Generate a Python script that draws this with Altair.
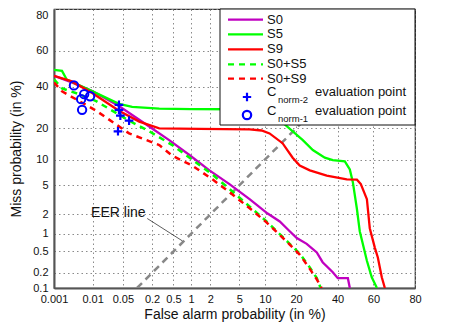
import altair as alt
import pandas as pd
from statistics import NormalDist

# ---------------- data (all values in %) ----------------
x_ticks = [0.001, 0.01, 0.05, 0.2, 0.5, 1, 2, 5, 10, 20, 40, 60, 80]
x_tick_labels = ["0.001", "0.01", "0.05", "0.2", "0.5", "1", "2", "5", "10", "20", "40", "60", "80"]
y_ticks = [0.1, 0.2, 0.5, 1, 2, 5, 10, 20, 40, 60, 80]
y_tick_labels = ["0.1", "0.2", "0.5", "1", "2", "5", "10", "20", "40", "60", "80"]

s0_fa = [0.001, 0.003, 0.01, 0.041, 0.176, 0.42, 0.94, 1.94, 3.73, 6.7, 10.7, 14.2,
         17.6, 20.3, 24.5, 29.2, 32.1, 37.4, 40.1, 45.7, 46.8]
s0_miss = [46.0, 42.4, 37.5, 30.0, 20.8, 15.7, 11.2, 7.6, 5.2, 3.3, 2.06, 1.57,
           1.10, 0.85, 0.68, 0.48, 0.32, 0.206, 0.158, 0.158, 0.1]

s5_fa = [0.001, 0.00165, 0.0022, 0.01, 0.041, 0.079, 0.275, 1.0, 5.0, 9.9, 14.2, 15.5,
         22.8, 27.3, 33.2, 37.4, 44.0, 46.8, 48.5, 50.8, 52.4, 56.4, 59.1, 61.9]
s5_miss = [49.4, 48.8, 44.0, 37.5, 31.0, 29.5, 28.7, 28.5, 28.4, 28.3, 25.0, 22.0,
           15.7, 12.6, 10.5, 9.9, 9.6, 7.8, 5.5, 2.4, 1.10, 0.34, 0.165, 0.1]

s9_fa = [0.001, 0.003, 0.01, 0.041, 0.111, 0.275, 1.36, 6.7, 9.2, 11.2, 15.1, 18.7,
         21.5, 25.9, 34.2, 45.1, 50.8, 53.0, 56.4, 58.0, 60.8, 62.4, 64.5, 66.1]
s9_miss = [46.0, 42.9, 36.5, 27.7, 22.8, 20.0, 19.8, 19.6, 19.2, 18.1, 14.7, 10.5,
           8.6, 7.6, 6.6, 5.95, 5.9, 5.2, 3.3, 1.23, 0.58, 0.39, 0.165, 0.1]

s05_fa = [0.001, 0.00165, 0.0046, 0.0122, 0.068, 0.176, 0.478, 1.05, 2.15, 3.73, 7.27,
          10.4, 14.2, 17.6, 21.5, 25.9, 29.2, 31.1]
s05_miss = [44.0, 39.1, 36.0, 32.4, 23.2, 18.9, 14.1, 9.97, 6.8, 4.5, 2.4,
            1.57, 0.99, 0.68, 0.457, 0.256, 0.158, 0.1]

s09_fa = [0.001, 0.00165, 0.0122, 0.068, 0.275, 0.478, 1.05, 2.15, 3.73, 7.27,
          10.4, 14.2, 17.6, 21.5, 25.9, 29.2, 31.6]
s09_miss = [42.3, 37.5, 27.7, 18.1, 14.1, 11.0, 8.6, 5.95, 4.1, 2.28,
            1.52, 0.96, 0.66, 0.44, 0.24, 0.15, 0.1]

cnorm1_fa = [0.0034, 0.0062, 0.0087, 0.0052, 0.0055]
cnorm1_miss = [40.7, 36.0, 34.9, 33.4, 28.1]
cnorm2_fa = [0.041, 0.041, 0.044, 0.068, 0.039]
cnorm2_miss = [30.5, 28.1, 25.4, 23.2, 18.9]

eer_vals = [0.1, 80]
eer_label_pos = [0.0092, 2.08]
eer_pointer = [0.161, 1.74, 0.72, 0.76]

# ---------------- helpers ----------------
ND = NormalDist()


def probit(pct):
    return ND.inv_cdf(pct / 100.0)


def series_df(fa, miss):
    return pd.DataFrame({"i": list(range(len(fa))),
                         "x": [probit(v) for v in fa],
                         "y": [probit(v) for v in miss]})


def label_expr(vals, labels):
    expr = "''"
    for v, l in reversed(list(zip(vals, labels))):
        expr = f"abs(datum.value - ({v:.6f})) < 0.001 ? '{l}' : ({expr})"
    return expr


FONT = "Liberation Sans"
W, H = 361, 279

x_vals = [probit(v) for v in x_ticks]
y_vals = [probit(v) for v in y_ticks]
xs = alt.Scale(domain=[probit(0.001), probit(80)], nice=False, zero=False)
ys = alt.Scale(domain=[probit(0.1), probit(80)], nice=False, zero=False)

x_axis = alt.Axis(values=x_vals, labelExpr=label_expr(x_vals, x_tick_labels),
                  title="False alarm probability (in %)", grid=True,
                  gridDash=[1.5, 3], gridColor="#8a8a8a", gridWidth=1,
                  ticks=False, labelOverlap=False, labelFlush=False, labelBound=False,
                  labelFontSize=11, titleFontSize=14, titleFontWeight="normal",
                  domainColor="#555555", domainWidth=2, labelPadding=5,
                  titlePadding=3, labelColor="#111111", titleColor="#111111",
                  labelFont=FONT, titleFont=FONT)
y_axis = alt.Axis(values=y_vals, labelExpr=label_expr(y_vals, y_tick_labels),
                  title="Miss probability (in %)", grid=True,
                  gridDash=[1.5, 3], gridColor="#8a8a8a", gridWidth=1,
                  ticks=False, labelOverlap=False, labelFlush=False, labelBound=False,
                  labelBaseline={"condition": {"test": "datum.value > 0.8", "value": "top"},
                                 "value": "middle"},
                  labelFontSize=11, titleFontSize=14, titleFontWeight="normal",
                  domainColor="#555555", domainWidth=2, labelPadding=6,
                  titlePadding=9, labelColor="#111111", titleColor="#111111",
                  labelFont=FONT, titleFont=FONT)

X = alt.X("x:Q", scale=xs, axis=x_axis)
Y = alt.Y("y:Q", scale=ys, axis=y_axis)


def line_layer(df, color, dash=None, width=2.3):
    kw = dict(color=color, strokeWidth=width, clip=True)
    if dash:
        kw["strokeDash"] = dash
    return alt.Chart(df).mark_line(**kw).encode(x=X, y=Y, order="i:Q")


MAG, GRN, RED, BLU = "#C000C0", "#00FF00", "#FF0000", "#0000FF"
PLUS = "M-1,0H1M0,-1V1"

layers = []
layers.append(line_layer(series_df(eer_vals, eer_vals), "#888888", dash=[7, 5], width=2.5))
layers.append(line_layer(series_df(s0_fa, s0_miss), MAG))
layers.append(line_layer(series_df(s5_fa, s5_miss), GRN))
layers.append(line_layer(series_df(s9_fa, s9_miss), RED))
layers.append(line_layer(series_df(s05_fa, s05_miss), GRN, dash=[6, 5], width=2.5))
layers.append(line_layer(series_df(s09_fa, s09_miss), RED, dash=[6, 5], width=2.5))

layers.append(alt.Chart(series_df(cnorm2_fa, cnorm2_miss)).mark_point(
    shape=PLUS, size=75, strokeWidth=2.2, color=BLU, filled=False, opacity=1).encode(x=X, y=Y))
layers.append(alt.Chart(series_df(cnorm1_fa, cnorm1_miss)).mark_point(
    shape="circle", size=70, strokeWidth=2, color=BLU, filled=False, opacity=1).encode(x=X, y=Y))

# EER annotation
eer_lab = pd.DataFrame({"x": [probit(eer_label_pos[0])], "y": [probit(eer_label_pos[1])]})
layers.append(alt.Chart(eer_lab).mark_text(text="EER line", align="left", baseline="middle",
                                           fontSize=14, font=FONT, color="#111111").encode(x=X, y=Y))
ptr = pd.DataFrame({"x": [probit(eer_pointer[0])], "y": [probit(eer_pointer[1])],
                    "x2": [probit(eer_pointer[2])], "y2": [probit(eer_pointer[3])]})
layers.append(alt.Chart(ptr).mark_rule(color="#333333", strokeWidth=0.8).encode(
    x=X, y=Y, x2="x2:Q", y2="y2:Q"))

# ---------------- legend (drawn manually) ----------------
one = pd.DataFrame({"a": [0]})
LX0, LX1 = 166, 361
layers.append(alt.Chart(one).mark_rect(fill="white", stroke="#111111", strokeWidth=1).encode(
    x=alt.value(LX0), x2=alt.value(LX1), y=alt.value(0), y2=alt.value(116)))

leg_lines = [("S0", MAG, None, 10.7), ("S5", GRN, None, 25.3), ("S9", RED, None, 40.3),
             ("S0+S5", GRN, [6, 5], 55.3), ("S0+S9", RED, [6, 5], 69.7)]
for name, col, dash, yy in leg_lines:
    kw = dict(color=col, strokeWidth=2.3)
    if dash:
        kw["strokeDash"] = dash
    layers.append(alt.Chart(one).mark_rule(**kw).encode(
        x=alt.value(174), x2=alt.value(209), y=alt.value(yy)))
    layers.append(alt.Chart(one).mark_text(text=name, align="left", baseline="middle",
                                           fontSize=13, font=FONT, color="#111111").encode(
        x=alt.value(213), y=alt.value(yy)))

for sub, shape, ym, yt in [("norm-2", PLUS, 88, 83), ("norm-1", "circle", 106, 102)]:
    layers.append(alt.Chart(one).mark_point(shape=shape, size=70, strokeWidth=2.2, color=BLU,
                                            filled=False, opacity=1).encode(
        x=alt.value(193), y=alt.value(ym)))
    layers.append(alt.Chart(one).mark_text(text="C", align="left", baseline="middle",
                                           fontSize=13, font=FONT, color="#111111").encode(
        x=alt.value(213), y=alt.value(yt)))
    layers.append(alt.Chart(one).mark_text(text=sub, align="left", baseline="middle",
                                           fontSize=9.5, font=FONT, color="#111111").encode(
        x=alt.value(224), y=alt.value(yt + 7.5)))
    layers.append(alt.Chart(one).mark_text(text="evaluation point", align="left", baseline="middle",
                                           fontSize=13, font=FONT, color="#111111").encode(
        x=alt.value(261), y=alt.value(yt)))

chart = alt.layer(*layers).properties(
    width=W, height=H,
    padding={"left": 46, "top": 1, "right": 40, "bottom": 38},
    autosize=alt.AutoSizeParams(type="none"),
).configure(font=FONT, background="white").configure_view(stroke="#333333", strokeWidth=1.2)

chart.save("out.html", embed_options={"renderer": "svg", "actions": False})
